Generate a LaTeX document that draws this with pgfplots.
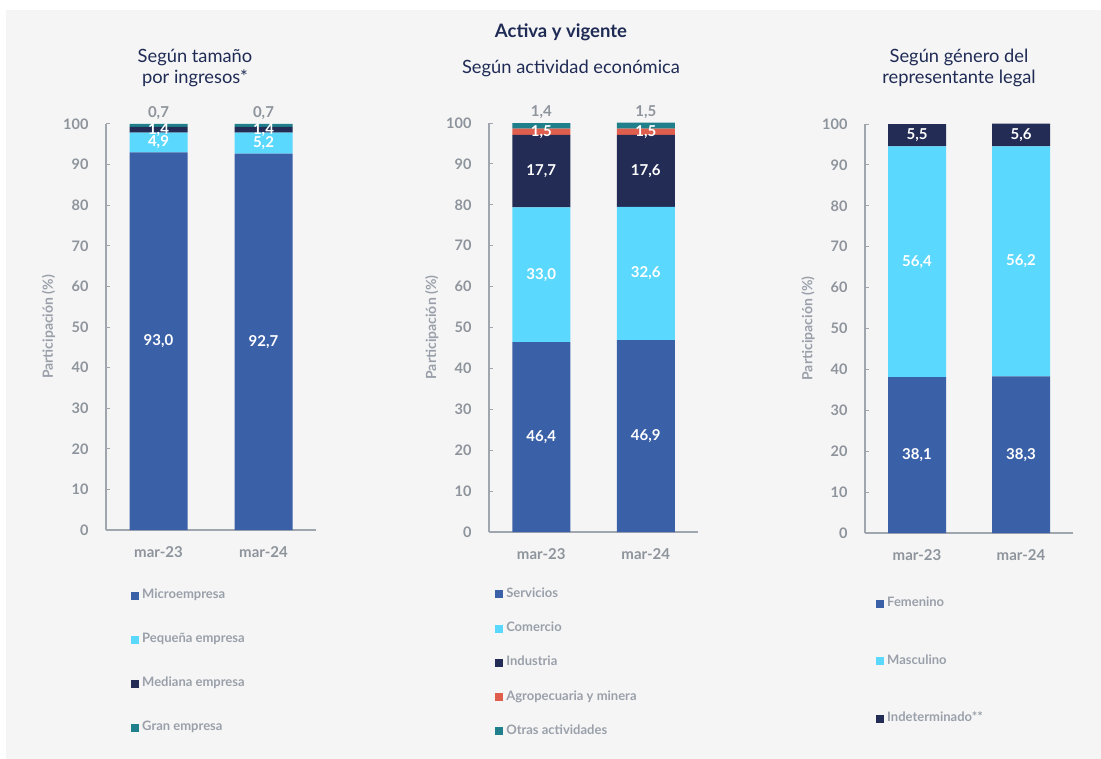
\documentclass[border=0pt]{standalone}
\usepackage{fontspec}
\setmainfont{Lato}
\usepackage{pgfplots}
\pgfplotsset{compat=1.18}

\definecolor{bg}{HTML}{F5F5F5}
\definecolor{micro}{HTML}{3A60A8}
\definecolor{cyanb}{HTML}{5AD8FD}
\definecolor{navy}{HTML}{222C55}
\definecolor{teal}{HTML}{1F7F8A}
\definecolor{agro}{HTML}{E05E4E}
\definecolor{tickgray}{HTML}{8E949C}
\definecolor{axisgray}{HTML}{A0A6AE}
\definecolor{labgray}{HTML}{9AA0AA}
\definecolor{titlenavy}{HTML}{1F2B55}

\tikzset{
  lbl/.style={font=\fontsize{15}{15}\selectfont\bfseries, text=white},
  toplbl/.style={font=\fontsize{15}{15}\selectfont\bfseries, text=tickgray, yshift=11pt},
}

\pgfplotsset{
  panel/.style={
    scale only axis, ybar stacked, bar width=58pt, clip=false,
    xmin=-0.5, xmax=1.5, ymin=0, ymax=100,
    axis lines=left, axis line style={-, draw=axisgray, line width=1.2pt},
    xtick={0,1}, xticklabels={mar-23,mar-24}, xtick style={draw=none},
    ytick={0,10,...,100}, tick align=inside, major tick length=4pt,
    ytick style={draw=axisgray, line width=1pt},
    tick label style={font=\fontsize{14.5}{16}\selectfont\bfseries, text=tickgray},
    /pgf/number format/assume math mode=true,
    yticklabel style={xshift=-14pt},
    xticklabel style={yshift=-13pt, font=\fontsize{15}{16}\selectfont\bfseries},
    ylabel={Participación (\%)},
    ylabel style={at={(axis description cs:-0.274,0.5)}, anchor=center,
      font=\fontsize{14}{14}\selectfont\bfseries, text=labgray},
    legend image code/.code={\path[#1] (0pt,-4pt) rectangle (8pt,4pt);},
    legend cell align=left,
    legend style={draw=none, fill=none, inner sep=0pt,
      font=\fontsize{13}{13}\selectfont\bfseries, text=labgray,
      nodes={inner sep=0pt, text height=9pt, text depth=3pt},
      /tikz/every odd column/.append style={column sep=3pt}},
  },
}

\begin{document}
\begin{tikzpicture}
\fill[white] (0pt,0pt) rectangle (1101pt,-759pt);
\fill[bg] (6pt,-10pt) rectangle (1101pt,-759pt);

\node[font=\fontsize{18.5}{18}\selectfont\bfseries, text=titlenavy] at (561pt,-32pt) {Activa y vigente};
\node[font=\fontsize{18.3}{21}\selectfont, text=titlenavy, align=center] at (195pt,-68pt) {Según tamaño\\por ingresos*};
\node[font=\fontsize{18.3}{21}\selectfont, text=titlenavy] at (571pt,-68pt) {Según actividad económica};
\node[font=\fontsize{18.3}{21}\selectfont, text=titlenavy, align=center] at (959pt,-68pt) {Según género del\\representante legal};

% Panel 1
\begin{axis}[panel, at={(106pt,-530pt)}, anchor=south west, width=210pt, height=406pt,
  legend style={at={(axis description cs:0.119,-0.147)}, anchor=north west, /tikz/row sep=32pt}]
  \addplot[fill=micro, draw=none] coordinates {(0,93.0) (1,92.7)};
  \addplot[fill=cyanb, draw=none] coordinates {(0,4.9) (1,5.2)};
  \addplot[fill=navy, draw=none] coordinates {(0,1.4) (1,1.4)};
  \addplot[fill=teal, draw=none] coordinates {(0,0.7) (1,0.7)};
  \legend{Microempresa, Pequeña empresa, Mediana empresa, Gran empresa}
  \coordinate (a1) at (axis cs:0,46.5);
  \coordinate (a2) at (axis cs:1,46.35);
  \coordinate (a3) at (axis cs:0,95.45);
  \coordinate (a4) at (axis cs:1,95.3);
  \coordinate (a5) at (axis cs:0,98.6);
  \coordinate (a6) at (axis cs:1,98.6);
  \coordinate (a7) at (axis cs:0,100);
  \coordinate (a8) at (axis cs:1,100);
\end{axis}
\node[lbl] at (a1) {93,0};
\node[lbl] at (a2) {92,7};
\node[lbl] at (a3) {4,9};
\node[lbl] at (a4) {5,2};
\node[lbl] at (a5) {1,4};
\node[lbl] at (a6) {1,4};
\node[toplbl] at (a7) {0,7};
\node[toplbl] at (a8) {0,7};

% Panel 2
\begin{axis}[panel, at={(489pt,-532pt)}, anchor=south west, width=209pt, height=409pt,
  legend style={at={(axis description cs:0.029,-0.137)}, anchor=north west, /tikz/row sep=22.3pt}]
  \addplot[fill=micro, draw=none] coordinates {(0,46.4) (1,46.9)};
  \addplot[fill=cyanb, draw=none] coordinates {(0,33.0) (1,32.6)};
  \addplot[fill=navy, draw=none] coordinates {(0,17.7) (1,17.6)};
  \addplot[fill=agro, draw=none] coordinates {(0,1.5) (1,1.5)};
  \addplot[fill=teal, draw=none] coordinates {(0,1.4) (1,1.5)};
  \legend{Servicios, Comercio, Industria, Agropecuaria y minera, Otras actividades}
  \coordinate (b1) at (axis cs:0,23.2);
  \coordinate (b2) at (axis cs:1,23.45);
  \coordinate (b3) at (axis cs:0,62.9);
  \coordinate (b4) at (axis cs:1,63.2);
  \coordinate (b5) at (axis cs:0,88.25);
  \coordinate (b6) at (axis cs:1,88.3);
  \coordinate (b7) at (axis cs:0,97.85);
  \coordinate (b8) at (axis cs:1,97.85);
  \coordinate (b9) at (axis cs:0,100);
  \coordinate (b10) at (axis cs:1,100);
\end{axis}
\node[lbl] at (b1) {46,4};
\node[lbl] at (b2) {46,9};
\node[lbl] at (b3) {33,0};
\node[lbl] at (b4) {32,6};
\node[lbl] at (b5) {17,7};
\node[lbl] at (b6) {17,6};
\node[lbl] at (b7) {1,5};
\node[lbl] at (b8) {1,5};
\node[toplbl] at (b9) {1,4};
\node[toplbl] at (b10) {1,5};

% Panel 3
\begin{axis}[panel, at={(865pt,-533pt)}, anchor=south west, width=208pt, height=409pt,
  legend style={at={(axis description cs:0.053,-0.158)}, anchor=north west, /tikz/row sep=45.5pt}]
  \addplot[fill=micro, draw=none] coordinates {(0,38.1) (1,38.3)};
  \addplot[fill=cyanb, draw=none] coordinates {(0,56.4) (1,56.2)};
  \addplot[fill=navy, draw=none] coordinates {(0,5.5) (1,5.6)};
  \legend{Femenino, Masculino, Indeterminado**}
  \coordinate (c1) at (axis cs:0,19.05);
  \coordinate (c2) at (axis cs:1,19.15);
  \coordinate (c3) at (axis cs:0,66.3);
  \coordinate (c4) at (axis cs:1,66.4);
  \coordinate (c5) at (axis cs:0,97.25);
  \coordinate (c6) at (axis cs:1,97.2);
\end{axis}
\node[lbl] at (c1) {38,1};
\node[lbl] at (c2) {38,3};
\node[lbl] at (c3) {56,4};
\node[lbl] at (c4) {56,2};
\node[lbl] at (c5) {5,5};
\node[lbl] at (c6) {5,6};
\end{tikzpicture}
\end{document}
